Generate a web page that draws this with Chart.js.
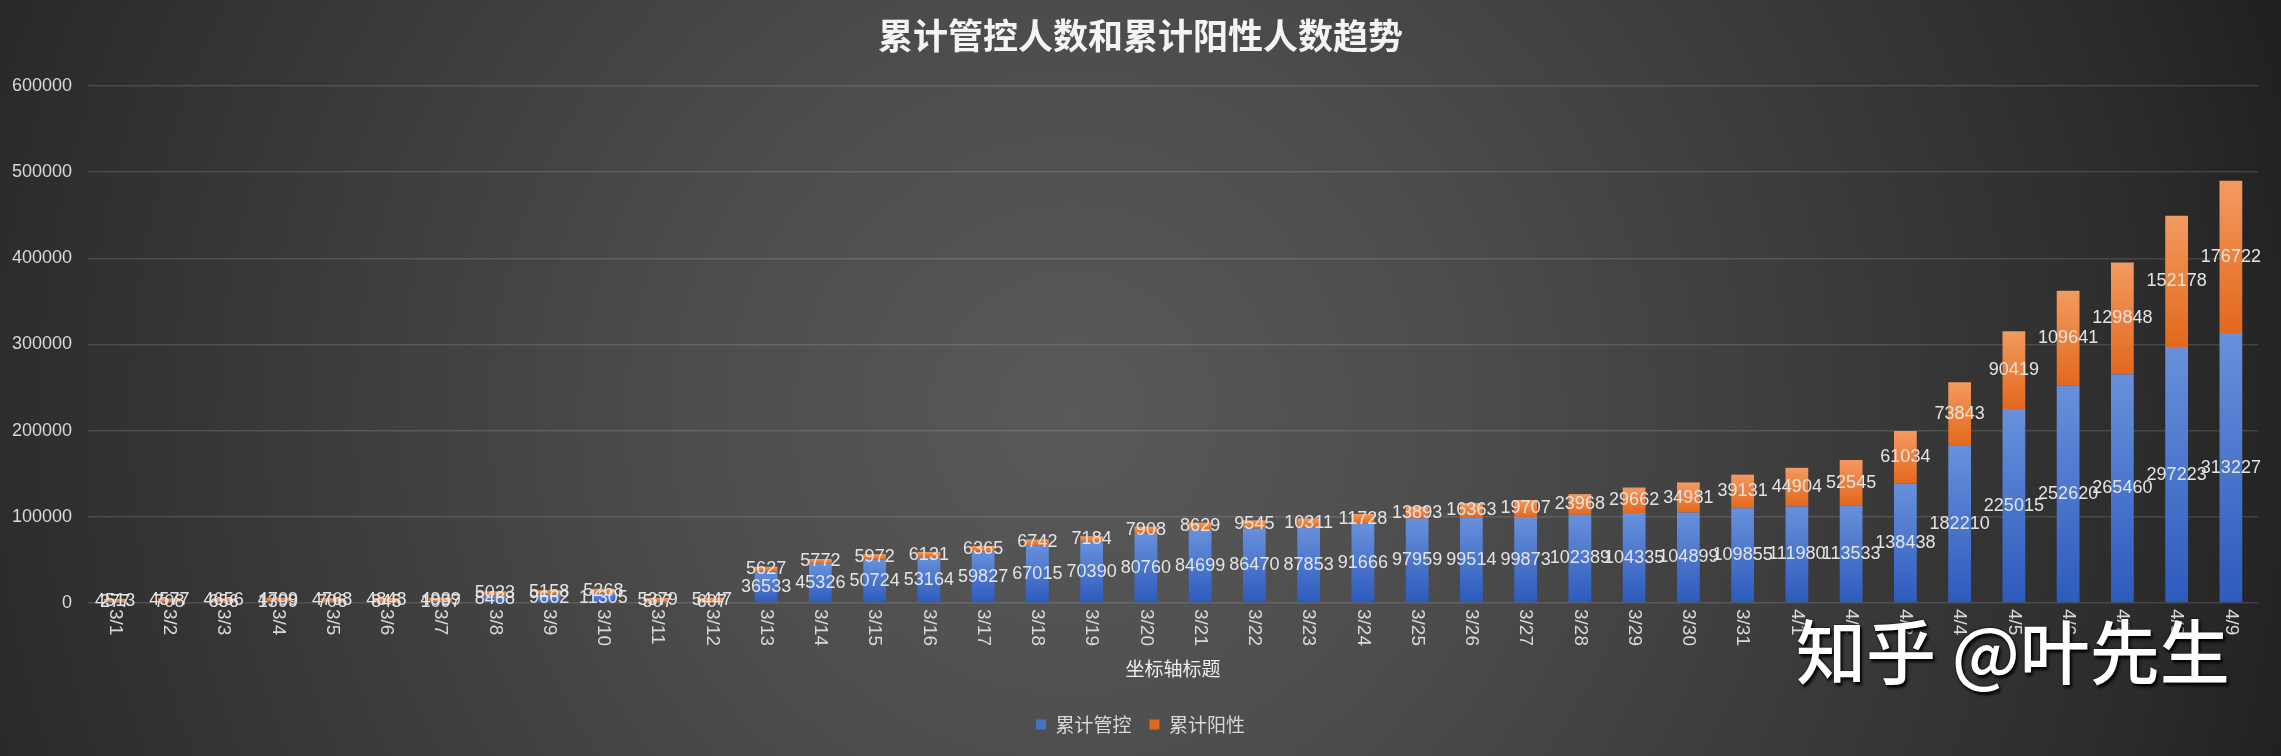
<!DOCTYPE html>
<html><head><meta charset="utf-8">
<script src="https://cdn.jsdelivr.net/npm/chart.js@4"></script>
<style>
html,body{margin:0;padding:0;}
body{width:2281px;height:756px;overflow:hidden;position:relative;
background:radial-gradient(circle at 47% 55%, #595959 0px, #4d4d4d 380px, #2b2b2b 1100px, #1e1e1e 1300px);}
#wrap{position:absolute;left:0;top:0;width:2281px;height:756px;}
#wm{position:absolute;left:1796px;top:614px;font:500 70px "Noto Sans CJK SC";color:#fff;line-height:1;white-space:nowrap;
text-shadow:2px 3px 3px rgba(0,0,0,0.9),0 0 2px #000;}
</style></head>
<body>
<div id="wrap"><canvas id="c" width="2281" height="756"></canvas></div>
<div id="wm">知乎 @叶先生</div>
<script>
const chartTitle = '累计管控人数和累计阳性人数趋势';
const xAxisTitle = '坐标轴标题';
const seriesNames = ['累计管控', '累计阳性'];
const categories = ['3/1','3/2','3/3','3/4','3/5','3/6','3/7','3/8','3/9','3/10','3/11','3/12','3/13','3/14','3/15','3/16','3/17','3/18','3/19','3/20','3/21','3/22','3/23','3/24','3/25','3/26','3/27','3/28','3/29','3/30','3/31','4/1','4/2','4/3','4/4','4/5','4/6','4/7','4/8','4/9'];
const controlValues = [277,708,656,1399,706,845,1097,8488,9662,11305,507,607,36533,45326,50724,53164,59827,67015,70390,80760,84699,86470,87853,91666,97959,99514,99873,102389,104335,104899,109855,111980,113533,138438,182210,225015,252620,265460,297223,313227];
const positiveValues = [4513,4577,4656,4709,4768,4848,4939,5023,5158,5268,5379,5447,5627,5772,5972,6131,6365,6742,7184,7908,8629,9545,10311,11728,13893,16363,19707,23968,29662,34981,39131,44904,52545,61034,73843,90419,109641,129848,152178,176722];
const yTickValues = [0,100000,200000,300000,400000,500000,600000];

const gradStops = [
  ['#6890db', '#2d5bbd', '#4472c4'],
  ['#f39a60', '#e3681c', '#ed7d31']
];
function barFill(ctx, di) {
  const chart = ctx.chart;
  const y = chart.scales && chart.scales.y;
  if (ctx.type !== 'data' || !chart.chartArea || !y) return gradStops[di][2];
  const i = ctx.dataIndex;
  const lo = di === 0 ? 0 : controlValues[i];
  const hi = di === 0 ? controlValues[i] : controlValues[i] + positiveValues[i];
  const top = y.getPixelForValue(hi), bot = y.getPixelForValue(lo);
  if (!isFinite(top) || !isFinite(bot) || bot - top < 1) return gradStops[di][2];
  const g = chart.ctx.createLinearGradient(0, top, 0, bot);
  g.addColorStop(0, gradStops[di][0]);
  g.addColorStop(1, gradStops[di][1]);
  return g;
}

const valueLabels = {
  id: 'valueLabels',
  afterDatasetsDraw(chart) {
    const c = chart.ctx;
    c.save();
    c.font = '18px "Liberation Sans", sans-serif';
    c.fillStyle = '#e4e4e4';
    c.textAlign = 'center';
    c.textBaseline = 'middle';
    chart.data.datasets.forEach((ds, di) => {
      chart.getDatasetMeta(di).data.forEach((bar, i) => {
        const p = bar.getProps(['x', 'y', 'base'], true);
        c.fillText(String(ds.data[i]), p.x, (p.y + p.base) / 2);
      });
    });
    c.restore();
  }
};

const xLabels = {
  id: 'xLabels',
  afterDraw(chart) {
    const c = chart.ctx, xs = chart.scales.x;
    c.save();
    c.font = '19px "Liberation Sans", sans-serif';
    c.fillStyle = '#d9d9d9';
    c.textAlign = 'left';
    c.textBaseline = 'middle';
    categories.forEach((lab, i) => {
      c.save();
      c.translate(xs.getPixelForValue(i), chart.chartArea.bottom + 6);
      c.rotate(Math.PI / 2);
      c.fillText(lab, 0, 0);
      c.restore();
    });
    c.restore();
  }
};

// centre title and legend on the full canvas width
const centreBoxes = {
  id: 'centreBoxes',
  afterLayout(chart) {
    [chart.titleBlock, chart.legend].forEach(b => {
      if (b) { b.left += 11.5; b.right += 11.5; }
    });
  }
};

new Chart(document.getElementById('c'), {
  type: 'bar',
  data: {
    labels: categories,
    datasets: [
      { label: seriesNames[0], data: controlValues, backgroundColor: ctx => barFill(ctx, 0), barPercentage: 0.42, categoryPercentage: 1 },
      { label: seriesNames[1], data: positiveValues, backgroundColor: ctx => barFill(ctx, 1), barPercentage: 0.42, categoryPercentage: 1 }
    ]
  },
  options: {
    responsive: false,
    animation: false,
    devicePixelRatio: 1,
    layout: { padding: { left: 0, right: 23, top: 0, bottom: 12 } },
    plugins: {
      title: { display: true, text: chartTitle, color: '#f4f4f4',
        font: { family: '"Noto Sans CJK SC", sans-serif', size: 35, weight: 'bold' },
        padding: { top: 15, bottom: 29 } },
      legend: { position: 'bottom',
        labels: { color: '#d9d9d9', font: { family: '"Noto Sans CJK SC", sans-serif', size: 19 }, boxWidth: 10, boxHeight: 10, padding: 18 } },
      tooltip: { enabled: false }
    },
    scales: {
      x: { stacked: true, grid: { display: false }, border: { display: false }, ticks: { display: false },
        title: { display: true, text: xAxisTitle, color: '#eeeeee', font: { family: '"Noto Sans CJK SC", sans-serif', size: 19 }, padding: { top: 0, bottom: 17 } },
        afterFit(s) { s.height = 94; } },
      y: { stacked: true, min: 0, max: 600000,
        afterBuildTicks(s) { s.ticks = yTickValues.map(v => ({ value: v })); },
        ticks: { color: '#d9d9d9', font: { size: 18, family: '"Liberation Sans", sans-serif' }, padding: 16, callback: v => String(v) },
        grid: { color: 'rgba(255,255,255,0.13)', lineWidth: 1.5, drawTicks: false },
        border: { display: false },
        afterFit(s) { s.width = 88; } }
    }
  },
  plugins: [valueLabels, xLabels, centreBoxes]
});
</script>
</body></html>
